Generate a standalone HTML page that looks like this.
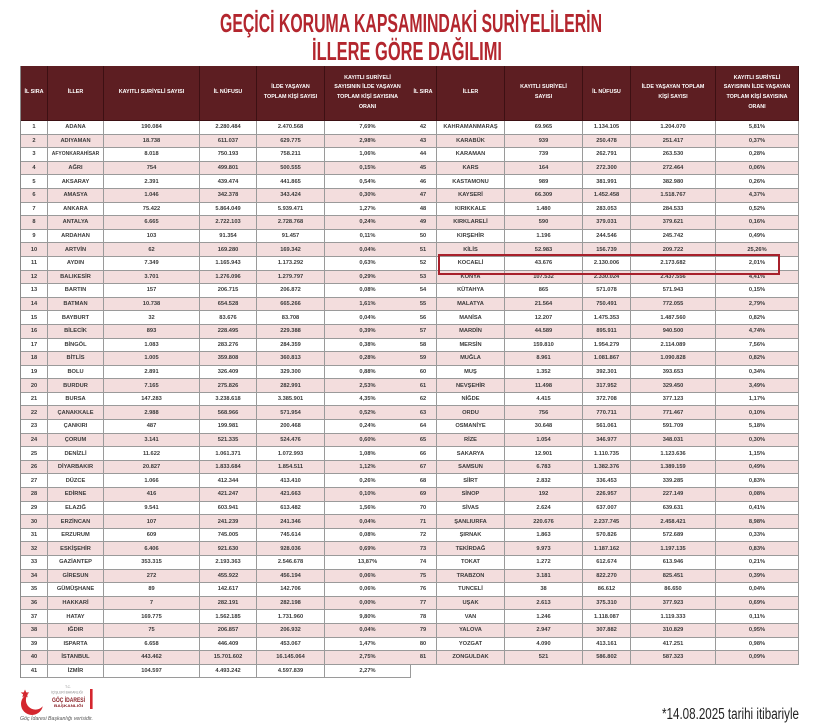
<!DOCTYPE html>
<html><head><meta charset="utf-8">
<style>
html,body{margin:0;padding:0;}
body{width:820px;height:726px;background:#fff;position:relative;overflow:hidden;font-family:"Liberation Sans",sans-serif;}
table{position:absolute;top:66px;border-collapse:separate;border-spacing:0;table-layout:fixed;}
td,th{padding:0;text-align:center;vertical-align:middle;overflow:hidden;white-space:nowrap;}
th{background:#5d1e22;color:#fff;font-size:5.4px;font-weight:bold;line-height:9.6px;border-right:1px solid #3d1013;border-bottom:1px solid #3d1013;}
thead tr{height:55px;}
tbody tr{height:13.6px;}
td{font-size:5.7px;font-weight:bold;color:#3a3a3a;border-right:1px solid #9a9a9a;border-bottom:1px solid #9a9a9a;line-height:10px;background:#fff;}
td.s{font-size:5px;}
tr.p td{background:#f3dddd;}
#L{left:20px;width:390px;border-left:1px solid #8a8a8a;}
#R{left:410px;width:389px;}
#box{position:absolute;left:438px;top:254px;width:342px;height:21px;border:2px solid #a8202b;box-sizing:border-box;}
svg{position:absolute;left:0;top:0;}
</style></head><body>
<svg width="820" height="66" style="top:0">
<text x="411" y="32" text-anchor="middle" font-family="Liberation Sans, sans-serif" font-size="26" font-weight="bold" fill="#b3262e" textLength="382" lengthAdjust="spacingAndGlyphs">GEÇİCİ KORUMA KAPSAMINDAKİ SURİYELİLERİN</text>
<text x="407" y="60" text-anchor="middle" font-family="Liberation Sans, sans-serif" font-size="26" font-weight="bold" fill="#b3262e" textLength="190" lengthAdjust="spacingAndGlyphs">İLLERE GÖRE DAĞILIMI</text>
</svg>

<table id="L">
<colgroup><col style="width:27px"><col style="width:56px"><col style="width:96px"><col style="width:57px"><col style="width:68px"><col style="width:86px"></colgroup>
<thead><tr><th>İL SIRA</th><th>İLLER</th><th>KAYITLI SURİYELİ SAYISI</th><th>İL NÜFUSU</th><th>İLDE YAŞAYAN<br>TOPLAM KİŞİ SAYISI</th><th>KAYITLI SURİYELİ<br>SAYISININ İLDE YAŞAYAN<br>TOPLAM KİŞİ SAYISINA<br>ORANI</th></tr></thead>
<tbody>
<tr><td>1</td><td>ADANA</td><td>190.084</td><td>2.280.484</td><td>2.470.568</td><td>7,69%</td></tr>
<tr class="p"><td>2</td><td>ADIYAMAN</td><td>18.738</td><td>611.037</td><td>629.775</td><td>2,98%</td></tr>
<tr><td>3</td><td class="s">AFYONKARAHİSAR</td><td>8.018</td><td>750.193</td><td>758.211</td><td>1,06%</td></tr>
<tr class="p"><td>4</td><td>AĞRI</td><td>754</td><td>499.801</td><td>500.555</td><td>0,15%</td></tr>
<tr><td>5</td><td>AKSARAY</td><td>2.391</td><td>439.474</td><td>441.865</td><td>0,54%</td></tr>
<tr class="p"><td>6</td><td>AMASYA</td><td>1.046</td><td>342.378</td><td>343.424</td><td>0,30%</td></tr>
<tr><td>7</td><td>ANKARA</td><td>75.422</td><td>5.864.049</td><td>5.939.471</td><td>1,27%</td></tr>
<tr class="p"><td>8</td><td>ANTALYA</td><td>6.665</td><td>2.722.103</td><td>2.728.768</td><td>0,24%</td></tr>
<tr><td>9</td><td>ARDAHAN</td><td>103</td><td>91.354</td><td>91.457</td><td>0,11%</td></tr>
<tr class="p"><td>10</td><td>ARTVİN</td><td>62</td><td>169.280</td><td>169.342</td><td>0,04%</td></tr>
<tr><td>11</td><td>AYDIN</td><td>7.349</td><td>1.165.943</td><td>1.173.292</td><td>0,63%</td></tr>
<tr class="p"><td>12</td><td>BALIKESİR</td><td>3.701</td><td>1.276.096</td><td>1.279.797</td><td>0,29%</td></tr>
<tr><td>13</td><td>BARTIN</td><td>157</td><td>206.715</td><td>206.872</td><td>0,08%</td></tr>
<tr class="p"><td>14</td><td>BATMAN</td><td>10.738</td><td>654.528</td><td>665.266</td><td>1,61%</td></tr>
<tr><td>15</td><td>BAYBURT</td><td>32</td><td>83.676</td><td>83.708</td><td>0,04%</td></tr>
<tr class="p"><td>16</td><td>BİLECİK</td><td>893</td><td>228.495</td><td>229.388</td><td>0,39%</td></tr>
<tr><td>17</td><td>BİNGÖL</td><td>1.083</td><td>283.276</td><td>284.359</td><td>0,38%</td></tr>
<tr class="p"><td>18</td><td>BİTLİS</td><td>1.005</td><td>359.808</td><td>360.813</td><td>0,28%</td></tr>
<tr><td>19</td><td>BOLU</td><td>2.891</td><td>326.409</td><td>329.300</td><td>0,88%</td></tr>
<tr class="p"><td>20</td><td>BURDUR</td><td>7.165</td><td>275.826</td><td>282.991</td><td>2,53%</td></tr>
<tr><td>21</td><td>BURSA</td><td>147.283</td><td>3.238.618</td><td>3.385.901</td><td>4,35%</td></tr>
<tr class="p"><td>22</td><td>ÇANAKKALE</td><td>2.988</td><td>568.966</td><td>571.954</td><td>0,52%</td></tr>
<tr><td>23</td><td>ÇANKIRI</td><td>487</td><td>199.981</td><td>200.468</td><td>0,24%</td></tr>
<tr class="p"><td>24</td><td>ÇORUM</td><td>3.141</td><td>521.335</td><td>524.476</td><td>0,60%</td></tr>
<tr><td>25</td><td>DENİZLİ</td><td>11.622</td><td>1.061.371</td><td>1.072.993</td><td>1,08%</td></tr>
<tr class="p"><td>26</td><td>DİYARBAKIR</td><td>20.827</td><td>1.833.684</td><td>1.854.511</td><td>1,12%</td></tr>
<tr><td>27</td><td>DÜZCE</td><td>1.066</td><td>412.344</td><td>413.410</td><td>0,26%</td></tr>
<tr class="p"><td>28</td><td>EDİRNE</td><td>416</td><td>421.247</td><td>421.663</td><td>0,10%</td></tr>
<tr><td>29</td><td>ELAZIĞ</td><td>9.541</td><td>603.941</td><td>613.482</td><td>1,56%</td></tr>
<tr class="p"><td>30</td><td>ERZİNCAN</td><td>107</td><td>241.239</td><td>241.346</td><td>0,04%</td></tr>
<tr><td>31</td><td>ERZURUM</td><td>609</td><td>745.005</td><td>745.614</td><td>0,08%</td></tr>
<tr class="p"><td>32</td><td>ESKİŞEHİR</td><td>6.406</td><td>921.630</td><td>928.036</td><td>0,69%</td></tr>
<tr><td>33</td><td>GAZİANTEP</td><td>353.315</td><td>2.193.363</td><td>2.546.678</td><td>13,87%</td></tr>
<tr class="p"><td>34</td><td>GİRESUN</td><td>272</td><td>455.922</td><td>456.194</td><td>0,06%</td></tr>
<tr><td>35</td><td>GÜMÜŞHANE</td><td>89</td><td>142.617</td><td>142.706</td><td>0,06%</td></tr>
<tr class="p"><td>36</td><td>HAKKARİ</td><td>7</td><td>282.191</td><td>282.198</td><td>0,00%</td></tr>
<tr><td>37</td><td>HATAY</td><td>169.775</td><td>1.562.185</td><td>1.731.960</td><td>9,80%</td></tr>
<tr class="p"><td>38</td><td>IĞDIR</td><td>75</td><td>206.857</td><td>206.932</td><td>0,04%</td></tr>
<tr><td>39</td><td>ISPARTA</td><td>6.658</td><td>446.409</td><td>453.067</td><td>1,47%</td></tr>
<tr class="p"><td>40</td><td>İSTANBUL</td><td>443.462</td><td>15.701.602</td><td>16.145.064</td><td>2,75%</td></tr>
<tr><td>41</td><td>İZMİR</td><td>104.597</td><td>4.493.242</td><td>4.597.839</td><td>2,27%</td></tr>
</tbody></table>

<table id="R">
<colgroup><col style="width:27px"><col style="width:68px"><col style="width:78px"><col style="width:48px"><col style="width:85px"><col style="width:83px"></colgroup>
<thead><tr><th>İL SIRA</th><th>İLLER</th><th>KAYITLI SURİYELİ<br>SAYISI</th><th>İL NÜFUSU</th><th>İLDE YAŞAYAN TOPLAM<br>KİŞİ SAYISI</th><th>KAYITLI SURİYELİ<br>SAYISININ İLDE YAŞAYAN<br>TOPLAM KİŞİ SAYISINA<br>ORANI</th></tr></thead>
<tbody>
<tr><td>42</td><td>KAHRAMANMARAŞ</td><td>69.965</td><td>1.134.105</td><td>1.204.070</td><td>5,81%</td></tr>
<tr class="p"><td>43</td><td>KARABÜK</td><td>939</td><td>250.478</td><td>251.417</td><td>0,37%</td></tr>
<tr><td>44</td><td>KARAMAN</td><td>739</td><td>262.791</td><td>263.530</td><td>0,28%</td></tr>
<tr class="p"><td>45</td><td>KARS</td><td>164</td><td>272.300</td><td>272.464</td><td>0,06%</td></tr>
<tr><td>46</td><td>KASTAMONU</td><td>989</td><td>381.991</td><td>382.980</td><td>0,26%</td></tr>
<tr class="p"><td>47</td><td>KAYSERİ</td><td>66.309</td><td>1.452.458</td><td>1.518.767</td><td>4,37%</td></tr>
<tr><td>48</td><td>KIRIKKALE</td><td>1.480</td><td>283.053</td><td>284.533</td><td>0,52%</td></tr>
<tr class="p"><td>49</td><td>KIRKLARELİ</td><td>590</td><td>379.031</td><td>379.621</td><td>0,16%</td></tr>
<tr><td>50</td><td>KIRŞEHİR</td><td>1.196</td><td>244.546</td><td>245.742</td><td>0,49%</td></tr>
<tr class="p"><td>51</td><td>KİLİS</td><td>52.983</td><td>156.739</td><td>209.722</td><td>25,26%</td></tr>
<tr><td>52</td><td>KOCAELİ</td><td>43.676</td><td>2.130.006</td><td>2.173.682</td><td>2,01%</td></tr>
<tr class="p"><td>53</td><td>KONYA</td><td>107.532</td><td>2.330.024</td><td>2.437.556</td><td>4,41%</td></tr>
<tr><td>54</td><td>KÜTAHYA</td><td>865</td><td>571.078</td><td>571.943</td><td>0,15%</td></tr>
<tr class="p"><td>55</td><td>MALATYA</td><td>21.564</td><td>750.491</td><td>772.055</td><td>2,79%</td></tr>
<tr><td>56</td><td>MANİSA</td><td>12.207</td><td>1.475.353</td><td>1.487.560</td><td>0,82%</td></tr>
<tr class="p"><td>57</td><td>MARDİN</td><td>44.589</td><td>895.911</td><td>940.500</td><td>4,74%</td></tr>
<tr><td>58</td><td>MERSİN</td><td>159.810</td><td>1.954.279</td><td>2.114.089</td><td>7,56%</td></tr>
<tr class="p"><td>59</td><td>MUĞLA</td><td>8.961</td><td>1.081.867</td><td>1.090.828</td><td>0,82%</td></tr>
<tr><td>60</td><td>MUŞ</td><td>1.352</td><td>392.301</td><td>393.653</td><td>0,34%</td></tr>
<tr class="p"><td>61</td><td>NEVŞEHİR</td><td>11.498</td><td>317.952</td><td>329.450</td><td>3,49%</td></tr>
<tr><td>62</td><td>NİĞDE</td><td>4.415</td><td>372.708</td><td>377.123</td><td>1,17%</td></tr>
<tr class="p"><td>63</td><td>ORDU</td><td>756</td><td>770.711</td><td>771.467</td><td>0,10%</td></tr>
<tr><td>64</td><td>OSMANİYE</td><td>30.648</td><td>561.061</td><td>591.709</td><td>5,18%</td></tr>
<tr class="p"><td>65</td><td>RİZE</td><td>1.054</td><td>346.977</td><td>348.031</td><td>0,30%</td></tr>
<tr><td>66</td><td>SAKARYA</td><td>12.901</td><td>1.110.735</td><td>1.123.636</td><td>1,15%</td></tr>
<tr class="p"><td>67</td><td>SAMSUN</td><td>6.783</td><td>1.382.376</td><td>1.389.159</td><td>0,49%</td></tr>
<tr><td>68</td><td>SİİRT</td><td>2.832</td><td>336.453</td><td>339.285</td><td>0,83%</td></tr>
<tr class="p"><td>69</td><td>SİNOP</td><td>192</td><td>226.957</td><td>227.149</td><td>0,08%</td></tr>
<tr><td>70</td><td>SİVAS</td><td>2.624</td><td>637.007</td><td>639.631</td><td>0,41%</td></tr>
<tr class="p"><td>71</td><td>ŞANLIURFA</td><td>220.676</td><td>2.237.745</td><td>2.458.421</td><td>8,98%</td></tr>
<tr><td>72</td><td>ŞIRNAK</td><td>1.863</td><td>570.826</td><td>572.689</td><td>0,33%</td></tr>
<tr class="p"><td>73</td><td>TEKİRDAĞ</td><td>9.973</td><td>1.187.162</td><td>1.197.135</td><td>0,83%</td></tr>
<tr><td>74</td><td>TOKAT</td><td>1.272</td><td>612.674</td><td>613.946</td><td>0,21%</td></tr>
<tr class="p"><td>75</td><td>TRABZON</td><td>3.181</td><td>822.270</td><td>825.451</td><td>0,39%</td></tr>
<tr><td>76</td><td>TUNCELİ</td><td>38</td><td>86.612</td><td>86.650</td><td>0,04%</td></tr>
<tr class="p"><td>77</td><td>UŞAK</td><td>2.613</td><td>375.310</td><td>377.923</td><td>0,69%</td></tr>
<tr><td>78</td><td>VAN</td><td>1.246</td><td>1.118.087</td><td>1.119.333</td><td>0,11%</td></tr>
<tr class="p"><td>79</td><td>YALOVA</td><td>2.947</td><td>307.882</td><td>310.829</td><td>0,95%</td></tr>
<tr><td>80</td><td>YOZGAT</td><td>4.090</td><td>413.161</td><td>417.251</td><td>0,98%</td></tr>
<tr class="p"><td>81</td><td>ZONGULDAK</td><td>521</td><td>586.802</td><td>587.323</td><td>0,09%</td></tr>
</tbody></table>

<div id="box"></div>

<svg width="820" height="726" style="top:0;pointer-events:none">
<circle cx="32" cy="704" r="11" fill="#d4262e"/>
<circle cx="35.5" cy="700" r="9.6" fill="#fff"/>
<polygon points="25,689.5 26.2,692.4 29.3,692.5 26.9,694.4 27.7,697.4 25,695.7 22.3,697.4 23.1,694.4 20.7,692.5 23.8,692.4" fill="#d4262e"/>
<text x="68" y="688" text-anchor="middle" font-family="Liberation Sans, sans-serif" font-size="3.2" fill="#888">T.C.</text>
<text x="67" y="693.5" text-anchor="middle" font-family="Liberation Sans, sans-serif" font-size="3.3" fill="#888" textLength="32" lengthAdjust="spacingAndGlyphs">İÇİŞLERİ BAKANLIĞI</text>
<text x="68.5" y="702" text-anchor="middle" font-family="Liberation Sans, sans-serif" font-size="6.5" font-weight="bold" fill="#8a2228" textLength="33" lengthAdjust="spacingAndGlyphs">GÖÇ İDARESİ</text>
<text x="68.5" y="707" text-anchor="middle" font-family="Liberation Sans, sans-serif" font-size="4" font-weight="bold" fill="#8a2228" textLength="29" lengthAdjust="spacingAndGlyphs">BAŞKANLIĞI</text>
<rect x="90" y="689" width="2.6" height="20" fill="#d4262e"/>
<text x="20" y="720" font-family="Liberation Sans, sans-serif" font-size="5.6" font-style="italic" fill="#555" textLength="73" lengthAdjust="spacingAndGlyphs">Göç İdaresi Başkanlığı verisidir.</text>
<text x="662" y="719" font-family="Liberation Sans, sans-serif" font-size="15.5" fill="#222" textLength="137" lengthAdjust="spacingAndGlyphs">*14.08.2025 tarihi itibariyle</text>
</svg>
</body></html>
